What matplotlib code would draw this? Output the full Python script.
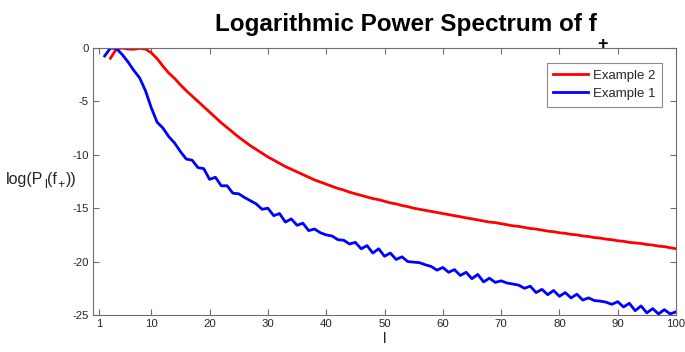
import matplotlib
matplotlib.use("Agg")
import matplotlib.pyplot as plt
from matplotlib.transforms import offset_copy

plt.rcParams['font.family'] = ['Liberation Sans', 'DejaVu Sans']
plt.rcParams['axes.unicode_minus'] = False

# ---- data ----
l_blue = list(range(2, 101))
ex1 = [-0.75, 0.0, -0.05, -0.6, -1.3, -2.1, -2.8, -4.0, -5.6, -6.95,
       -7.5, -8.3, -8.9, -9.7, -10.4, -10.5, -11.2, -11.3, -12.3, -12.1,
       -12.9, -12.9, -13.6, -13.65, -14.0, -14.3, -14.6, -15.1, -15.0, -15.7,
       -15.5, -16.3, -16.0, -16.6, -16.4, -17.1, -16.95, -17.3, -17.5, -17.6,
       -17.95, -18.0, -18.35, -18.2, -18.8, -18.5, -19.2, -18.8, -19.5, -19.2,
       -19.8, -19.55, -20.0, -20.05, -20.1, -20.3, -20.45, -20.8, -20.55, -21.0,
       -20.75, -21.3, -21.0, -21.6, -21.2, -21.9, -21.55, -21.95, -21.8, -22.0,
       -22.1, -22.2, -22.5, -22.3, -22.9, -22.6, -23.1, -22.7, -23.25, -22.9,
       -23.4, -23.05, -23.6, -23.4, -23.65, -23.7, -23.8, -24.0, -23.75, -24.25,
       -23.9, -24.6, -24.15, -24.8, -24.4, -24.9, -24.5, -24.9, -24.7]

l_red = list(range(3, 101))
ex2 = [-0.95, -0.1, 0.0, -0.1, -0.12, -0.03, -0.1, -0.45, -1.0, -1.7,
       -2.35, -2.85, -3.45, -4.0, -4.5, -5.0, -5.5, -6.0, -6.5, -7.0,
       -7.45, -7.9, -8.35, -8.75, -9.15, -9.5, -9.85, -10.2, -10.5, -10.8,
       -11.1, -11.35, -11.6, -11.85, -12.1, -12.35, -12.55, -12.75, -12.95, -13.15,
       -13.3, -13.5, -13.65, -13.8, -13.95, -14.1, -14.2, -14.35, -14.5, -14.6,
       -14.75, -14.85, -15.0, -15.1, -15.2, -15.3, -15.4, -15.5, -15.6, -15.7,
       -15.8, -15.9, -16.0, -16.1, -16.2, -16.3, -16.35, -16.45, -16.55, -16.65,
       -16.7, -16.8, -16.9, -16.95, -17.05, -17.15, -17.2, -17.3, -17.35, -17.45,
       -17.5, -17.6, -17.65, -17.75, -17.8, -17.9, -17.95, -18.05, -18.1, -18.2,
       -18.25, -18.3, -18.4, -18.45, -18.55, -18.6, -18.7, -18.8]

xticks = [1, 10, 20, 30, 40, 50, 60, 70, 80, 90, 100]
yticks = [-25, -20, -15, -10, -5, 0]

# ---- figure ----
fig = plt.figure(figsize=(6.85, 3.52), dpi=100)
ax = fig.add_axes([93/685, 1 - 315/352, (676 - 93)/685, (315 - 48)/352])

ax.plot(l_red, ex2, color=(1, 0, 0), lw=2.0, label='Example 2')
ax.plot(l_blue, ex1, color=(0, 0, 1), lw=2.0, label='Example 1')

ax.set_xlim(0, 100)
ax.set_ylim(-25, 0)
ax.set_xticks(xticks)
ax.set_yticks(yticks)

axcol = '#262626'
for s in ax.spines.values():
    s.set_color('#6e6e6e')
    s.set_linewidth(0.8)
ax.tick_params(direction='in', top=True, right=True, length=4, width=0.8,
               color='#6e6e6e', labelsize=8.2, labelcolor=axcol, pad=3)

ax.set_xlabel('l', fontsize=11, color=axcol, labelpad=2)

# y label (horizontal, MATLAB-style subscripts) built piece by piece
renderer = fig.canvas.get_renderer()
pieces = [('log(P', 0, 11.5), ('l', -4, 9), ('(f', 0, 11.5), ('+', -4, 9), ('))', 0, 11.5)]
x0 = 6.0
base_y = 352 - 184.0
for txt, dy, fs in pieces:
    t = fig.text(x0 / 685, (base_y + dy) / 352, txt, fontsize=fs, color=axcol,
                 ha='left', va='baseline')
    bb = t.get_window_extent(renderer=renderer)
    x0 += bb.width + 0.5

# title with lowered "+" subscript
fig.text(215/685, 1 - 31/352, 'Logarithmic Power Spectrum of f',
         fontsize=17.5, fontweight='bold', color='black', ha='left', va='baseline')
fig.text(597/685, 1 - 44/352, '+', fontsize=13, fontweight='bold',
         color='black', ha='left', va='center')

leg = ax.legend(loc='upper right', bbox_to_anchor=(0.976, 0.944), fontsize=9.5,
                frameon=True, fancybox=False, handlelength=2.6, borderpad=0.5,
                labelspacing=0.45, handletextpad=0.4, borderaxespad=0)
leg.get_frame().set_edgecolor('#6e6e6e')
leg.get_frame().set_linewidth(0.8)
for t in leg.get_texts():
    t.set_color(axcol)

fig.savefig('out.png', dpi=100)
